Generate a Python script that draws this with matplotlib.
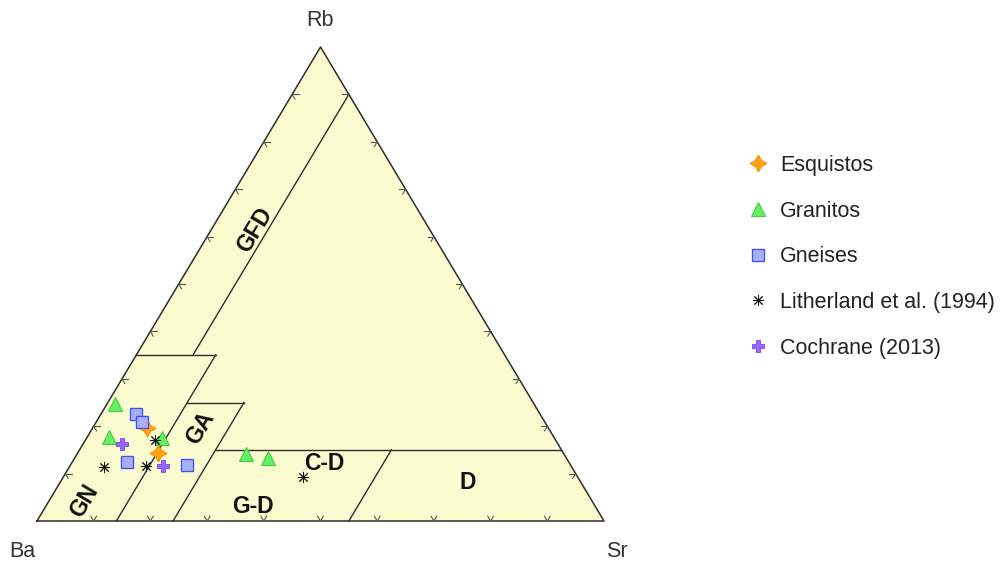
import numpy as np
import matplotlib
matplotlib.use("Agg")
import matplotlib.pyplot as plt

plt.rcParams['font.family'] = ['Liberation Sans', 'DejaVu Sans']

# ---------------- data (percent: Rb, Sr, Ba) ----------------
esq_rb = [19.6, 14.3]
esq_sr = [9.6, 14.2]
esq_ba = [70.8, 71.5]

gra_rb = [24.7, 17.7, 17.5, 14.1, 13.3]
gra_sr = [1.4, 3.8, 13.3, 29.8, 34.1]
gra_ba = [73.9, 78.5, 69.2, 56.1, 52.6]

gne_rb = [22.6, 20.9, 12.4, 11.8]
gne_sr = [6.2, 8.1, 9.6, 20.5]
gne_ba = [71.2, 71.0, 78.0, 67.7]

lit_rb = [11.4, 11.6, 17.1, 9.3]
lit_sr = [6.1, 13.4, 12.3, 42.3]
lit_ba = [82.5, 75.0, 70.6, 48.4]

coc_rb = [16.2, 11.6]
coc_sr = [6.9, 16.4]
coc_ba = [76.9, 72.0]

series_labels = ["Esquistos", "Granitos", "Gneises",
                 "Litherland et al. (1994)", "Cochrane (2013)"]

# field boundaries as (Sr, Rb) fractions
field_lines = [
    [(0.10, 0.35), (0.10, 0.90)],   # GFD
    [(0.00, 0.35), (0.14, 0.35)],   # GN top
    [(0.14, 0.00), (0.14, 0.35)],   # GN right
    [(0.14, 0.25), (0.24, 0.25)],   # GA top
    [(0.24, 0.00), (0.24, 0.25)],   # GA right
    [(0.24, 0.15), (0.85, 0.15)],   # C-D top
    [(0.55, 0.00), (0.55, 0.15)],   # D left
]


def tern(ba, sr, rb):
    ba = np.asarray(ba, float); sr = np.asarray(sr, float); rb = np.asarray(rb, float)
    s = ba + sr + rb
    sr = sr / s; rb = rb / s
    return sr + rb / 2.0, rb


def xy(sr, rb):
    return sr + rb / 2.0, rb


fig = plt.figure(figsize=(10, 5.65), dpi=100)
ax = fig.add_axes([0.037, 44 / 565, 0.567, 474 / 565])
ax.set_xlim(0, 1)
ax.set_ylim(0, 1)
ax.axis('off')

edge = '#2e2e2e'
# triangle
tx = [0, 1, 0.5, 0]
ty = [0, 0, 1, 0]
ax.fill(tx, ty, color='#fbfbd0', zorder=0, clip_on=False)
ax.plot(tx, ty, color=edge, lw=1.1, zorder=2, clip_on=False)

for seg in field_lines:
    pts = [xy(s, r) for s, r in seg]
    ax.plot([p[0] for p in pts], [p[1] for p in pts], color=edge, lw=1.0,
            zorder=2, clip_on=False)

# tick chevrons every 10 %
L = 0.014
tick_col = '#555555'
d_left = np.array([0.5, 1.0])    # direction parallel to Ba-Rb edge (up-right)
d_right = np.array([-0.5, 1.0])  # parallel to Sr-Rb edge (up-left)
d_h = np.array([1.0, 0.0])
for k in range(1, 10):
    f = k / 10
    # base
    p = np.array(xy(f, 0))
    for d in (d_left, d_right):
        q = p + L * d / np.linalg.norm(d) * 0.8
        ax.plot([p[0], q[0]], [p[1], q[1]], color=tick_col, lw=0.8, zorder=2)
    # left edge (Sr=0)
    p = np.array(xy(0, f))
    for d in (d_h, -d_right):
        q = p + L * d / np.linalg.norm(d) * 0.8
        ax.plot([p[0], q[0]], [p[1], q[1]], color=tick_col, lw=0.8, zorder=2)
    # right edge (Ba=0)
    p = np.array(xy(1 - f, f))
    for d in (-d_h, -d_left):
        q = p + L * d / np.linalg.norm(d) * 0.8
        ax.plot([p[0], q[0]], [p[1], q[1]], color=tick_col, lw=0.8, zorder=2)

# field labels
lab_kw = dict(fontsize=16.5, fontweight='bold', color='#111111', ha='center',
              va='center', zorder=3)
ax.text(0.3845, 0.614, 'GFD', rotation=59, rotation_mode='anchor', **lab_kw)
ax.text(0.2875, 0.196, 'GA', rotation=59, rotation_mode='anchor', **lab_kw)
ax.text(0.083, 0.042, 'GN', rotation=59, rotation_mode='anchor', **lab_kw)
ax.text(0.506, 0.122, 'C-D', **lab_kw)
ax.text(0.381, 0.030, 'G-D', **lab_kw)
ax.text(0.760, 0.082, 'D', **lab_kw)

# apex labels
ap_kw = dict(fontsize=15.5, color='#333333', ha='center', va='center')
ax.text(0.499, 1.055, 'Rb', **ap_kw)
ax.text(-0.026, -0.065, 'Ba', **ap_kw)
ax.text(1.023, -0.065, 'Sr', **ap_kw)

star4 = [(0, 1), (0.36, 0.36), (1, 0), (0.36, -0.36), (0, -1),
         (-0.36, -0.36), (-1, 0), (-0.36, 0.36), (0, 1)]

x, y = tern(esq_ba, esq_sr, esq_rb)
h1, = ax.plot(x, y, linestyle='none', marker=star4, ms=12, mfc='#ffa515',
              mec='#ff8c00', mew=0.8, zorder=5, label=series_labels[0])
x, y = tern(gra_ba, gra_sr, gra_rb)
h2, = ax.plot(x, y, linestyle='none', marker='^', ms=9.5, mfc='#66ee66',
              mec='#44cc44', mew=0.8, zorder=5, label=series_labels[1])
x, y = tern(gne_ba, gne_sr, gne_rb)
h3, = ax.plot(x, y, linestyle='none', marker='s', ms=8.5, mfc='#aab0f8',
              mec='#4455ee', mew=1.0, zorder=5, label=series_labels[2])
x, y = tern(lit_ba, lit_sr, lit_rb)
h4, = ax.plot(x, y, linestyle='none', marker=(8, 2, 0), ms=8, mfc='black',
              mec='#111111', mew=0.7, zorder=6, label=series_labels[3])
x, y = tern(coc_ba, coc_sr, coc_rb)
h5, = ax.plot(x, y, linestyle='none', marker='P', ms=9, mfc='#9966ff',
              mec='#7744ee', mew=0.6, zorder=5, label=series_labels[4])

fig.legend(handles=[h1, h2, h3, h4, h5], loc='upper left',
           bbox_to_anchor=(0.747, 1 - 155 / 565), frameon=False, fontsize=15.5,
           labelspacing=1.145, handletextpad=0.55, handlelength=1.0,
           borderpad=0, borderaxespad=0, labelcolor='#222222')

fig.savefig('out.png', dpi=100)
